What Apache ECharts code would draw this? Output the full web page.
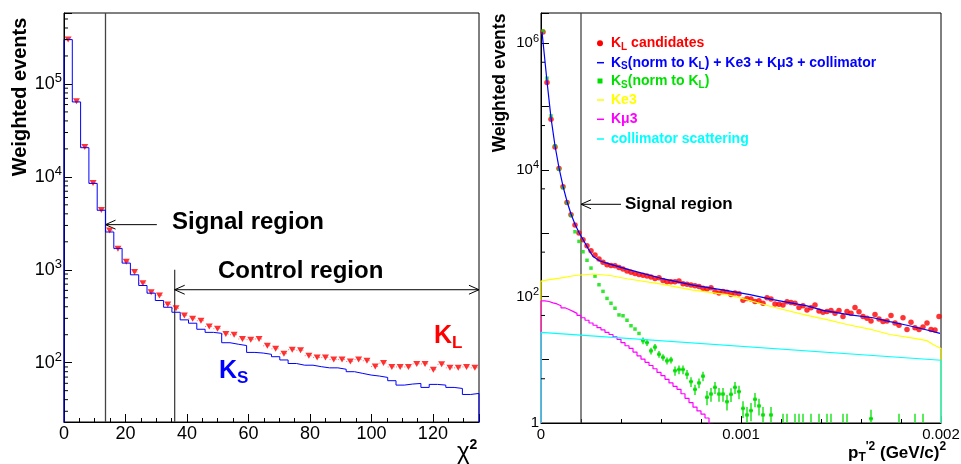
<!DOCTYPE html>
<html>
<head>
<meta charset="utf-8">
<title>KL / KS : chi2 and pt'2</title>
<script src="https://cdn.jsdelivr.net/npm/echarts@6/dist/echarts.min.js"></script>
<style>
html,body{margin:0;padding:0;background:#fff}
#main{width:961px;height:464px}
</style>
</head>
<body>
<div id="main"></div>
<script type="text/javascript">
var FONT = '"Liberation Sans", Arial, Helvetica, sans-serif';

// ---- left panel : chi2, 50 bins of 2.7 ----
var chiBinWidth = 2.7;
var ksChi = [3.0e5, 6.4e4, 2.06e4, 8500, 4370, 2550, 1700, 1180, 883, 677,
             560, 467, 395, 349, 289, 266, 229, 212, 207, 164,
             158, 153, 129, 127, 123, 116, 107, 98, 94, 94,
             90.6, 88, 88, 85, 80, 76.7, 73.6, 71.8, 69.4, 64,
             57.4, 58.9, 59.8, 54.2, 58.4, 57.4, 54.2, 52.8, 45.5, 46.7];
var klChi = [3.0e5, 6.5e4, 2.1e4, 8600, 4400, 2650, 1680, 1220, 944, 718,
             574, 528, 423, 385, 323, 297, 283, 245, 232, 203,
             200, 180, 177, 180, 152, 141, 125, 138, 136, 119,
             114, 114, 108, 108, 103, 108, 105, 91, 99, 90,
             90, 90, 97, 97, 84, 96, 88, 88, 90, 88];
var chiCuts = [[13.5, 23, 13.5, 5.8e5], [36, 23, 36, 1000]];
// x1, y1, x2, y2, heads (1 = at start, 2 = both)
var chiArrows = [[13.5, 3060, 30.2, 3060, 1], [36, 610, 135, 610, 2]];

// ---- right panel : pt'2, 100 bins of 0.00002 ----
var ptBinWidth = 0.00002;
var klPt = [1.5e6, 2.4e5, 6.3e4, 2.3e4, 1.05e4, 5400, 3050, 1950, 1340, 1000,
            785, 630, 527, 450, 390, 345, 316, 309, 304, 287,
            271, 252, 240, 230, 222, 216, 210, 202, 192, 197,
            179, 170, 170, 170, 175, 158, 155, 151, 147, 144,
            134, 131, 137, 119, 113, 120, 116, 107, 113, 110,
            87, 93, 91, 83, 85, 78, 95, 91, 76, 75,
            73, 82, 80, 78, 67, 71, 61, 66, 73, 59,
            56, 58, 60, 54, 60, 48, 58, 54, 67, 57,
            48, 45, 41, 52, 44, 40, 41, 50, 38, 35,
            46, 30, 39, 32, 30, 33, 38, 30, 29.5, 48];
var ksPt = [1.55e6, 2.8e5, 7.1e4, 2.4e4, 1.02e4, 5200, 3000, 1900, 1050, 740,
            507, 372, 280, 209, 153, 120, 93, 78, 65, 51,
            49.5, 42, 34.4, 30.5, 26, 20, 18.6, 13.8, 15.8, 12.2,
            10.9, 9.6, 9.9, 6.7, 7.0, 7.0, 5.9, 4.5, 3.4, 4.3,
            5.5, 2.55, 2.87, 3.66, 2.87, 2.87, 2.17, 2.84, 3.66, 3.13,
            1.7, 1.34, 1.57, 2.37, 1.86, 1.34, null, 1.34, null, null,
            0.6, 0.6, null, 0.6, 0.6, 0.6, null, 0.6, null, 0.6,
            null, 0.6, 0.6, null, null, 0.6, 0.6, null, null, null,
            null, null, 1.17, null, null, null, null, null, null, 0.6,
            null, null, null, 0.6, null, 0.6, null, null, null, null];
var ksPtErr = [0, 0, 0, 0, 0, 0, 0, 0, 0, 0,
               0, 0, 0, 0, 0, 0, 0, 0, 0, 0,
               0, 0, 0, 0, 0, 2.4, 2.2, 1.7, 1.9, 1.5,
               1.3, 1.2, 1.2, 1.1, 1.1, 1.1, 1.0, 0.8, 0.62, 0.75,
               0.95, 0.65, 0.7, 0.8, 0.7, 0.7, 0.6, 0.7, 0.8, 0.75,
               0.5, 0.45, 0.5, 0.6, 0.55, 0.45, 0, 0.45, 0, 0,
               0.8, 0.8, 0, 0.8, 0.8, 0.8, 0, 0.8, 0, 0.8,
               0, 0.8, 0.8, 0, 0, 0.8, 0.8, 0, 0, 0,
               0, 0, 0.45, 0, 0, 0, 0, 0, 0, 0.8,
               0, 0, 0, 0.8, 0, 0.8, 0, 0, 0, 0];
var kmu3Pt = [85, 83, 79, 76, 71, 66, 62, 58, 54, 50,
              46, 42, 38, 35, 32, 29.5, 27, 25, 23, 21,
              18.6, 16.6, 15.1, 13.2, 11.5, 10.2, 9.1, 8.1, 7.2, 6.3,
              5.6, 4.9, 4.3, 3.8, 3.4, 2.9, 2.45, 2.1, 1.78, 1.55,
              1.38, 1.2, 0.95, 0.8];
var ke3X = [0, 0.000035, 0.000095, 0.00017, 0.00026, 0.000345, 0.00043, 0.000595, 0.00076, 0.00093,
            0.000995, 0.00116, 0.00133, 0.00143, 0.00153, 0.00166, 0.001745, 0.00186, 0.00193, 0.00196, 0.002];
var ke3Y = [174, 182, 195, 214, 226, 214, 190, 158, 126, 107,
            95, 68, 50, 43, 36, 29.5, 25, 21.9, 20, 17.4, 15];
var totX = [0.000005, 0.00003, 0.00005, 0.00007, 0.00009, 0.00011, 0.00013, 0.00015, 0.00017, 0.00019,
            0.00021, 0.000235, 0.00026, 0.000295, 0.000345, 0.00043, 0.000595, 0.00076, 0.00093, 0.001045,
            0.00116, 0.00133, 0.00141, 0.001545, 0.00166, 0.001745, 0.00183, 0.00192, 0.001995];
var totY = [1.51e6, 2.5e5, 6.6e4, 2.4e4, 1.07e4, 5500, 3160, 2000, 1380, 1020,
            794, 575, 427, 363, 324, 269, 195, 151, 123, 107,
            89, 71, 60, 51, 46, 40, 35, 30, 26];
var collX = [0, 0.002];
var collY = [27, 9.8];
var ptCuts = [[0.0002, 1, 0.0002, 3e6]];
var ptArrows = [[0.0002, 2850, 0.0004, 2850, 1]];

var chiYMin = 23, chiYMax = 5.8e5, ptYMin = 1, ptYMax = 3e6;

// ---- build series data ----
function stepData(vals, w, floor) {
  var d = [[0, floor]];
  for (var i = 0; i < vals.length; i++) d.push([+(i * w).toFixed(7), vals[i]]);
  d.push([+(vals.length * w).toFixed(7), vals[vals.length - 1]]);
  d.push([+(vals.length * w).toFixed(7), floor]);
  return d;
}
function centers(vals, w) {
  var d = [];
  vals.forEach(function (v, i) { if (v != null) d.push([+((i + 0.5) * w).toFixed(8), v]); });
  return d;
}
function zip(xs, ys) { return xs.map(function (x, i) { return [x, ys[i]]; }); }

var ksChiStep = stepData(ksChi, chiBinWidth, 1);
var klChiPts = centers(klChi, chiBinWidth);
var klChiBars = klChi.map(function (v, i) { return [i * chiBinWidth, v, (i + 1) * chiBinWidth]; });

var kmu3Step = [[0, ptYMin]];
kmu3Pt.forEach(function (v, i) { kmu3Step.push([+(i * ptBinWidth).toFixed(7), v]); });
kmu3Step.push([+(kmu3Pt.length * ptBinWidth).toFixed(7), kmu3Pt[kmu3Pt.length - 1]]);
var ke3Line = [[0, ptYMin]].concat(zip(ke3X, ke3Y), [[0.002, ptYMin]]);
var collLine = [[0, ptYMin]].concat(zip(collX, collY), [[0.002, ptYMin]]);
var totLine = zip(totX, totY);
var klPtPts = centers(klPt, ptBinWidth);
var ksPtPts = centers(ksPt, ptBinWidth);
var ksPtBars = [];
ksPt.forEach(function (v, i) {
  if (v != null && ksPtErr[i] > 0) ksPtBars.push([(i + 0.5) * ptBinWidth, v, ksPtErr[i]]);
});

// minor ticks of the log axes
var chiMinor = [], ptMinor = [];
for (var e = 1; e <= 5; e++) {
  for (var m = 2; m <= 9; m++) {
    var t = m * Math.pow(10, e);
    if (t > chiYMin && t < chiYMax) chiMinor.push([0, t]);
  }
}
for (var e2 = 0; e2 <= 6; e2++) {
  var t2 = 5 * Math.pow(10, e2);
  if (t2 < ptYMax) ptMinor.push([0, t2]);
}

// ---- custom renderers ----
function segItem(color, width) {
  return function (params, api) {
    var a = api.coord([api.value(0), api.value(1)]);
    var b = api.coord([api.value(2), api.value(3)]);
    return {type: 'line', shape: {x1: a[0], y1: a[1], x2: b[0], y2: b[1]},
            style: {stroke: color, lineWidth: width}};
  };
}
function arrowItem(params, api) {
  var a = api.coord([api.value(0), api.value(1)]);
  var b = api.coord([api.value(2), api.value(3)]);
  var heads = api.value(4);
  var st = {stroke: '#000', lineWidth: 1};
  var kids = [{type: 'line', shape: {x1: a[0], y1: a[1], x2: b[0], y2: b[1]}, style: st}];
  function head(p, q) {
    var ang = Math.atan2(p[1] - q[1], p[0] - q[0]);
    [0.42, -0.42].forEach(function (w) {
      var an = ang + Math.PI + w;
      kids.push({type: 'line', shape: {x1: p[0], y1: p[1], x2: p[0] + 11 * Math.cos(an), y2: p[1] + 11 * Math.sin(an)}, style: st});
    });
  }
  if (heads >= 1) head(a, b);
  if (heads >= 2) head(b, a);
  return {type: 'group', children: kids};
}
function tickItem(len) {
  return function (params, api) {
    var p = api.coord([api.value(0), api.value(1)]);
    return {type: 'line', shape: {x1: p[0], y1: p[1], x2: p[0] + len, y2: p[1]},
            style: {stroke: '#000', lineWidth: 1}};
  };
}
function dottedBarItem(params, api) {
  var a = api.coord([api.value(0), api.value(1)]);
  var b = api.coord([api.value(2), api.value(1)]);
  return {type: 'line', shape: {x1: a[0], y1: a[1], x2: b[0], y2: b[1]},
          style: {stroke: '#ff7070', lineWidth: 1, lineDash: [1, 2]}};
}
function errItem(params, api) {
  var cs = params.coordSys;
  var x = api.value(0), v = api.value(1), er = api.value(2);
  var lo = Math.max(v - er, ptYMin), hi = v + er;
  var p1 = api.coord([x, lo]), p2 = api.coord([x, hi]);
  var top = Math.max(cs.y, Math.min(p1[1], p2[1]));
  var bot = Math.min(cs.y + cs.height, Math.max(p1[1], p2[1]));
  var kids = [];
  var st = {stroke: '#00e000', lineWidth: 1.3};
  if (bot > top) kids.push({type: 'line', shape: {x1: p1[0], y1: top, x2: p1[0], y2: bot}, style: st});
  if (v >= ptYMin) {
    var c = api.coord([x, v]);
    kids.push({type: 'line', shape: {x1: c[0] - 2, y1: c[1], x2: c[0] + 2, y2: c[1]}, style: st});
  }
  return {type: 'group', children: kids};
}

// ---- axes ----
function logLabel(everyOther, big, small, raise) {
  return {
    margin: 2,
    formatter: function (val) {
      var ex = Math.log10(val), r = Math.round(ex);
      if (Math.abs(ex - r) > 0.01) return '';
      if (everyOther && r % 2 !== 0) return '';
      if (r === 0) return '{b|1}';
      return '{b|10}{p|' + r + '}';
    },
    rich: {
      b: {fontSize: big, fontFamily: FONT, color: '#000'},
      p: {fontSize: small, fontFamily: FONT, color: '#000', padding: [0, 0, raise, 0]}
    }
  };
}
var tickStyle = {lineStyle: {color: '#000', width: 1}};

var option = {
  animation: false,
  backgroundColor: '#ffffff',
  grid: [
    {left: 64, top: 13, width: 415, height: 409, show: true, borderColor: '#000', borderWidth: 1, outerBoundsMode: 'none'},
    {left: 541, top: 13, width: 400, height: 410, show: true, borderColor: '#000', borderWidth: 1, outerBoundsMode: 'none'}
  ],
  xAxis: [
    {gridIndex: 0, type: 'value', min: 0, max: 135, interval: 20,
     axisLine: {show: true, lineStyle: {color: '#000'}},
     axisTick: {show: true, inside: true, length: 8, lineStyle: {color: '#000'}},
     minorTick: {show: true, splitNumber: 4, length: 4, lineStyle: {color: '#000'}},
     splitLine: {show: false},
     axisLabel: {fontSize: 18, fontFamily: FONT, color: '#000', margin: 3,
                 formatter: function (v) { return v % 20 === 0 ? String(v) : ''; }}},
    {gridIndex: 1, type: 'value', min: 0, max: 0.002, interval: 0.001,
     axisLine: {show: true, lineStyle: {color: '#000'}},
     axisTick: {show: true, inside: true, length: 7, lineStyle: {color: '#000'}},
     minorTick: {show: true, splitNumber: 5, length: 4, lineStyle: {color: '#000'}},
     splitLine: {show: false},
     axisLabel: {fontSize: 15, fontFamily: FONT, color: '#000', margin: 4, showMaxLabel: true, showMinLabel: true,
                 formatter: function (v) { return v === 0 ? '0' : v.toFixed(3); }}}
  ],
  yAxis: [
    {gridIndex: 0, type: 'log', logBase: 10, min: chiYMin, max: chiYMax, splitNumber: 5,
     axisLine: {show: true, lineStyle: {color: '#000'}},
     axisTick: {show: true, inside: true, length: 8, lineStyle: {color: '#000'}},
     splitLine: {show: false},
     axisLabel: logLabel(false, 18, 13, 11)},
    {gridIndex: 1, type: 'log', logBase: 10, min: ptYMin, max: ptYMax, splitNumber: 5,
     axisLine: {show: true, lineStyle: {color: '#000'}},
     axisTick: {show: true, inside: true, length: 8, lineStyle: {color: '#000'}},
     splitLine: {show: false},
     axisLabel: logLabel(true, 15, 11, 9)}
  ],
  series: [
    // left panel
    {type: 'custom', name: 'chi cuts', xAxisIndex: 0, yAxisIndex: 0, silent: true,
     data: chiCuts, renderItem: segItem('#444', 1.3)},
    {type: 'line', name: 'KS', xAxisIndex: 0, yAxisIndex: 0, data: ksChiStep, step: 'end',
     symbol: 'none', silent: true, clip: true, lineStyle: {color: '#0000ff', width: 1}},
    {type: 'custom', name: 'KL bars', xAxisIndex: 0, yAxisIndex: 0, silent: true,
     data: klChiBars, renderItem: dottedBarItem},
    {type: 'scatter', name: 'KL', xAxisIndex: 0, yAxisIndex: 0, data: klChiPts, silent: true,
     symbol: 'triangle', symbolRotate: 180, symbolSize: [7, 6], itemStyle: {color: '#ff0000'}},
    {type: 'custom', name: 'chi arrows', xAxisIndex: 0, yAxisIndex: 0, silent: true,
     data: chiArrows, renderItem: arrowItem},
    {type: 'custom', name: 'chi minor ticks', xAxisIndex: 0, yAxisIndex: 0, silent: true, z: 10,
     data: chiMinor, renderItem: tickItem(4)},
    // right panel
    {type: 'custom', name: 'pt cuts', xAxisIndex: 1, yAxisIndex: 1, silent: true,
     data: ptCuts, renderItem: segItem('#444', 1.3)},
    {type: 'line', name: 'Ke3', xAxisIndex: 1, yAxisIndex: 1, data: ke3Line, symbol: 'none',
     silent: true, clip: true, lineStyle: {color: '#ffff00', width: 1.2}},
    {type: 'line', name: 'Kmu3', xAxisIndex: 1, yAxisIndex: 1, data: kmu3Step, step: 'end', symbol: 'none',
     silent: true, clip: true, lineStyle: {color: '#ff00ff', width: 1.2}},
    {type: 'line', name: 'collimator', xAxisIndex: 1, yAxisIndex: 1, data: collLine, symbol: 'none',
     silent: true, clip: true, lineStyle: {color: '#00ffff', width: 1.2}},
    {type: 'scatter', name: 'KL candidates', xAxisIndex: 1, yAxisIndex: 1, data: klPtPts, silent: true,
     symbol: 'circle', symbolSize: 5.5, itemStyle: {color: '#ff0000'}},
    {type: 'line', name: 'total', xAxisIndex: 1, yAxisIndex: 1, data: totLine, symbol: 'none',
     silent: true, clip: true, lineStyle: {color: '#0000ff', width: 1.2}},
    {type: 'custom', name: 'KS err', xAxisIndex: 1, yAxisIndex: 1, silent: true,
     data: ksPtBars, renderItem: errItem},
    {type: 'scatter', name: 'KS norm', xAxisIndex: 1, yAxisIndex: 1, data: ksPtPts, silent: true,
     symbol: 'rect', symbolSize: 3.5, itemStyle: {color: '#00e000'}},
    {type: 'custom', name: 'pt arrows', xAxisIndex: 1, yAxisIndex: 1, silent: true,
     data: ptArrows, renderItem: arrowItem},
    {type: 'custom', name: 'pt minor ticks', xAxisIndex: 1, yAxisIndex: 1, silent: true, z: 10,
     data: ptMinor, renderItem: tickItem(4)}
  ],
  graphic: []
};

// ---- texts ----
function txt(x, y, text, rich, extra) {
  var el = {type: 'text', x: x, y: y, z: 100, silent: true,
            style: {text: text, rich: rich, align: 'left', verticalAlign: 'middle'}};
  for (var k in extra) el[k] = extra[k];
  return el;
}
function tok(size, color, weight, pad) {
  var t = {fontSize: size, fontFamily: FONT, fontWeight: weight || 'bold', fill: color};
  if (pad) t.padding = pad;
  return t;
}
var G = option.graphic;
// left panel
G.push(txt(20, 97, '{a|Weighted events}', {a: tok(20, '#000')}, {rotation: Math.PI / 2, style: {text: '{a|Weighted events}', rich: {a: tok(20, '#000')}, align: 'center', verticalAlign: 'middle'}}));
G.push(txt(172, 222, '{a|Signal region}', {a: tok(24, '#000')}));
G.push(txt(218, 271, '{a|Control region}', {a: tok(24, '#000')}));
G.push(txt(434, 336, '{a|K}{s|L}', {a: tok(25, '#ff0000'), s: tok(17, '#ff0000', 'bold', [14, 0, 0, 0])}));
G.push(txt(219, 371, '{a|K}{s|S}', {a: tok(25, '#0000ff'), s: tok(17, '#0000ff', 'bold', [14, 0, 0, 0])}));
G.push(txt(457, 452, '{a|χ}{s|2}', {a: tok(24, '#000', 'normal'), s: tok(14, '#000', 'bold', [0, 0, 14, 0])}));
// right panel
G.push(txt(500, 83, '', {}, {rotation: Math.PI / 2, style: {text: '{a|Weighted events}', rich: {a: tok(17.5, '#000')}, align: 'center', verticalAlign: 'middle'}}));
G.push(txt(625, 204, '{a|Signal region}', {a: tok(17, '#000')}));
G.push(txt(848, 453, '{b|p}{d|T}{u|\'2}{b| (GeV/c)}{u|2}',
  {b: tok(17, '#000'), d: tok(12, '#000', 'bold', [10, 0, 0, 0]), u: tok(12, '#000', 'bold', [0, 0, 12, 0])}));

// legend of the right panel
var legRows = [
  {y: 43.3, color: '#ff0000', mark: 'circle', text: '{a|K}{s|L}{a| candidates}'},
  {y: 62.7, color: '#0000ff', mark: 'line', text: '{a|K}{s|S}{a|(norm to K}{s|L}{a|) + Ke3 + Kμ3 + collimator}'},
  {y: 81, color: '#00e000', mark: 'rect', text: '{a|K}{s|S}{a|(norm to K}{s|L}{a|)}'},
  {y: 100, color: '#ffff00', mark: 'line', text: '{a|Ke3}'},
  {y: 119.3, color: '#ff00ff', mark: 'line', text: '{a|Kμ3}'},
  {y: 139, color: '#00ffff', mark: 'line', text: '{a|collimator scattering}'}
];
legRows.forEach(function (r) {
  if (r.mark === 'circle') G.push({type: 'circle', z: 100, silent: true, shape: {cx: 600, cy: r.y, r: 3}, style: {fill: r.color}});
  else if (r.mark === 'rect') G.push({type: 'rect', z: 100, silent: true, shape: {x: 597.5, y: r.y - 2.5, width: 5, height: 5}, style: {fill: r.color}});
  else G.push({type: 'line', z: 100, silent: true, shape: {x1: 597, y1: r.y, x2: 604, y2: r.y}, style: {stroke: r.color, lineWidth: 1.5}});
  G.push(txt(611, r.y, r.text, {a: tok(14, r.color), s: tok(10, r.color, 'bold', [8, 0, 0, 0])}));
});

var myChart = echarts.init(document.getElementById('main'));
myChart.setOption(option);
</script>
</body>
</html>
